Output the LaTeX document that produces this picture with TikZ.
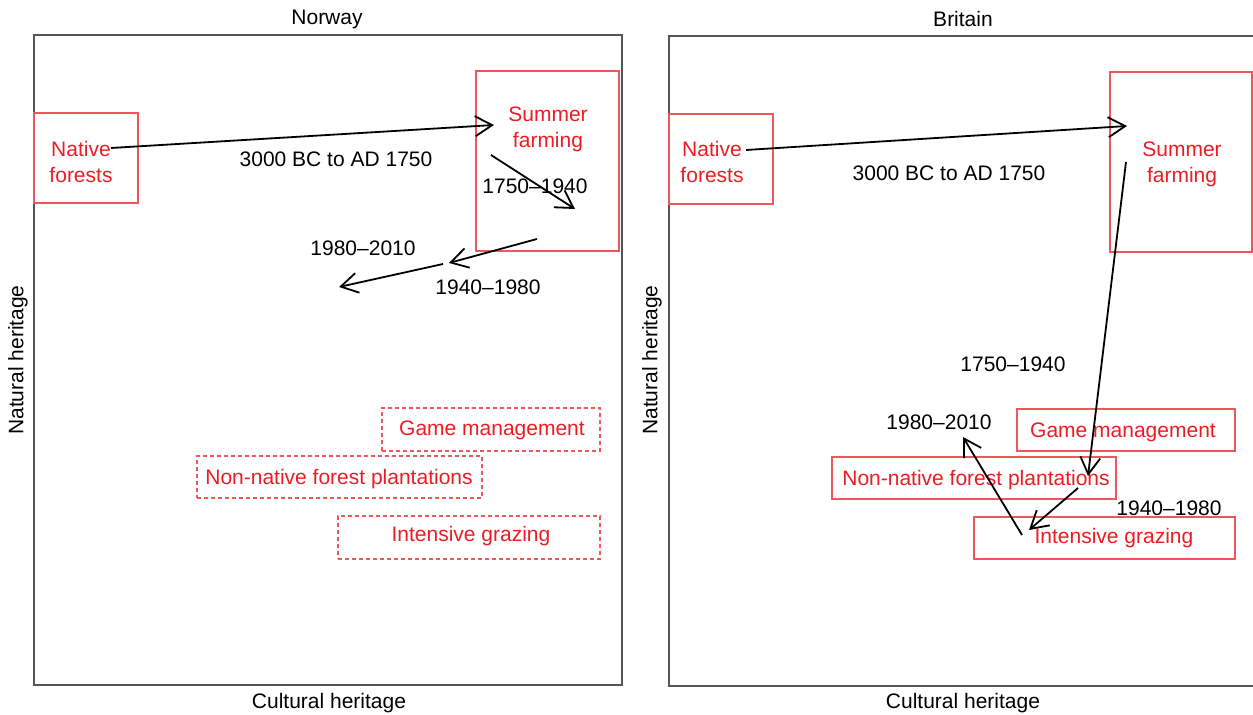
\documentclass[tikz,border=0pt]{standalone}
\usepackage{fontspec}
\setmainfont{Liberation Sans}
\usetikzlibrary{arrows.meta,fit}
\definecolor{boxred}{RGB}{236,88,92}
\definecolor{txtred}{RGB}{237,28,36}
\definecolor{framegray}{RGB}{85,85,85}
\tikzset{
  every node/.style={font=\fontsize{10.5}{12}\selectfont, inner sep=0pt},
  frameline/.style={draw=framegray, line width=0.6pt},
  solidbox/.style={draw=boxred, line width=0.55pt, inner sep=0pt},
  dashbox/.style={draw=boxred, line width=0.7pt, inner sep=0pt, dash pattern=on 2.2pt off 1.3pt},
  redtext/.style={text=txtred, align=center},
  timearrow/.style={draw=black, line width=0.9pt, -{Straight Barb[length=8.5pt,width=10pt,line width=0.9pt]}},
  blacklabel/.style={text=black}
}
\begin{document}
\begin{tikzpicture}[x=0.5pt,y=-0.5pt]
\useasboundingbox (0,0) rectangle (1253,715);
% ---------------- Norway ----------------
\draw[frameline] (34,35) rectangle (622,685);
\node (ntitle) at (327,19) {Norway};
\node (nxlab) at (329,703) {Cultural heritage};
\node[rotate=90] (nylab) at (18,360) {Natural heritage};

\node[solidbox, fit={(34,113) (138,203)}] (nNFbox) {};
\node[redtext] (nNF) at (81,162) {Native\\[1pt]forests};
\node[solidbox, fit={(476,71) (619,251)}] (nSFbox) {};
\node[redtext] (nSF) at (548,129) {Summer\\[1pt]farming};

\node[dashbox, fit={(382,408) (600,451)}] (nGMbox) {};
\node[redtext] (nGM) at (492,430) {Game management};
\node[dashbox, fit={(197,456) (482,498)}] (nNPbox) {};
\node[redtext] (nNP) at (339,479) {Non-native forest plantations};
\node[dashbox, fit={(338,516) (600,559)}] (nIGbox) {};
\node[redtext] (nIG) at (471,536) {Intensive grazing};

\coordinate (na1s) at (111,148);
\coordinate (na1e) at (494,125);
\coordinate (na2s) at (491,155);
\coordinate (na2e) at (575,209);
\coordinate (na3s) at (537,239);
\coordinate (na3e) at (449,263);
\coordinate (na4s) at (443,264);
\coordinate (na4e) at (339,287);
\draw[timearrow] (na1s) -- (na1e);
\draw[timearrow] (na2s) -- (na2e);
\draw[timearrow] (na3s) -- (na3e);
\draw[timearrow] (na4s) -- (na4e);
\node[blacklabel] (nl1) at (336,159) {3000 BC to AD 1750};
\node[blacklabel] (nl2) at (535,186) {1750--1940};
\node[blacklabel] (nl3) at (488,287) {1940--1980};
\node[blacklabel] (nl4) at (363,248) {1980--2010};

% ---------------- Britain ----------------
\draw[frameline] (1253,36) -- (669,36) -- (669,686) -- (1253,686);
\node (btitle) at (963,19) {Britain};
\node (bxlab) at (963,703) {Cultural heritage};
\node[rotate=90] (bylab) at (652,360) {Natural heritage};

\node[solidbox, fit={(669,114) (773,204)}] (bNFbox) {};
\node[redtext] (bNF) at (712,162) {Native\\[1pt]forests};
\node[solidbox, fit={(1110,72) (1252,252)}] (bSFbox) {};
\node[redtext] (bSF) at (1182,164) {Summer\\[1pt]farming};

\node[solidbox, fit={(1017,409) (1235,451)}] (bGMbox) {};
\node[redtext] (bGM) at (1123,432) {Game management};
\node[solidbox, fit={(832,457) (1116,499)}] (bNPbox) {};
\node[redtext] (bNP) at (976,480) {Non-native forest plantations};
\node[solidbox, fit={(974,517) (1235,559)}] (bIGbox) {};
\node[redtext] (bIG) at (1114,538) {Intensive grazing};

\coordinate (ba1s) at (746,150);
\coordinate (ba1e) at (1127,126);
\coordinate (ba2s) at (1126,162);
\coordinate (ba2e) at (1088,476);
\coordinate (ba3s) at (1078,488);
\coordinate (ba3e) at (1029,530);
\coordinate (ba4s) at (1022,535);
\coordinate (ba4e) at (963,437);
\draw[timearrow] (ba1s) -- (ba1e);
\draw[timearrow] (ba2s) -- (ba2e);
\draw[timearrow] (ba3s) -- (ba3e);
\draw[timearrow] (ba4s) -- (ba4e);
\node[blacklabel] (bl1) at (949,173) {3000 BC to AD 1750};
\node[blacklabel] (bl2) at (1013,364) {1750--1940};
\node[blacklabel] (bl3) at (1169,508) {1940--1980};
\node[blacklabel] (bl4) at (939,422) {1980--2010};
\end{tikzpicture}
\end{document}
